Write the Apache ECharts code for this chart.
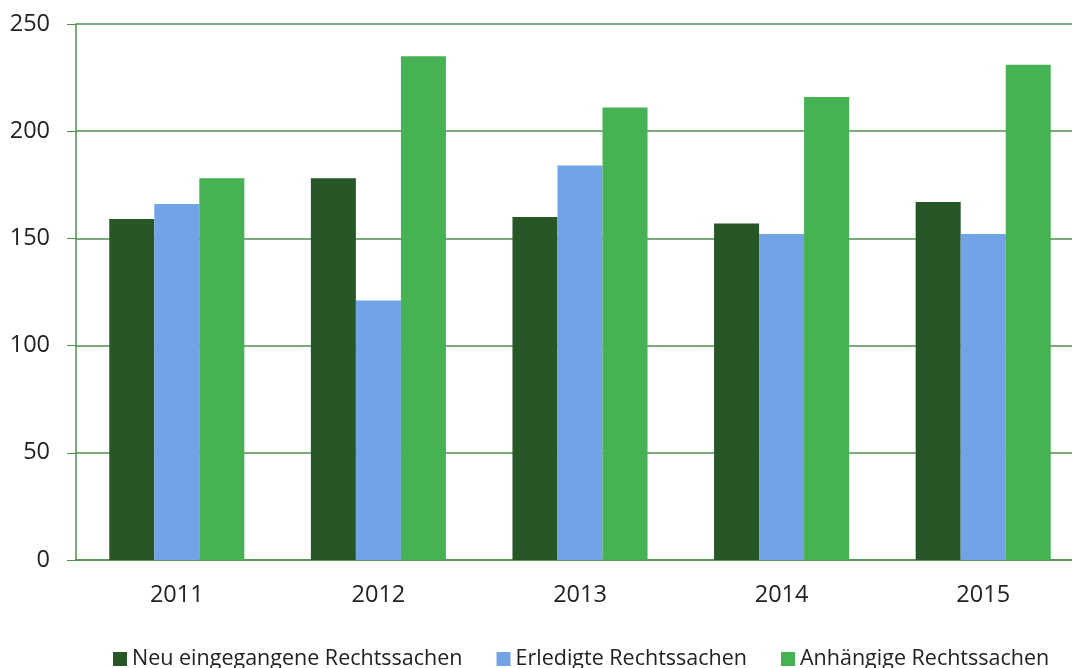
<!DOCTYPE html>
<html>
<head>
<meta charset="utf-8">
<script src="https://cdn.jsdelivr.net/npm/echarts@6/dist/echarts.min.js"></script>
<style>
  html, body { margin: 0; padding: 0; background: #fff; }
  #chart { width: 1072px; height: 668px; }
</style>
</head>
<body>
<div id="chart"></div>
<script>
  // Jahre und Werte
  const years = ['2011', '2012', '2013', '2014', '2015'];
  const neuEingegangen = [159, 178, 160, 157, 167];
  const erledigt = [166, 121, 184, 152, 152];
  const anhaengig = [178, 235, 211, 216, 231];
  const yTicks = [0, 50, 100, 150, 200, 250];

  const gridColor = '#4f8f4f';
  const axisFont = { color: '#222', fontFamily: 'Open Sans', fontSize: 23.5 };
  const legendFont = { color: '#222', fontFamily: 'Open Sans', fontSize: 21.5 };

  const myChart = echarts.init(document.getElementById('chart'));
  myChart.setOption({
    animation: false,
    color: ['#275627', '#71a3e6', '#46b253'],
    legend: {
      bottom: -7,
      left: 108,
      itemWidth: 14,
      itemHeight: 14,
      itemGap: 34,
      icon: 'rect',
      textStyle: legendFont
    },
    // rechter Rand ragt über das Bild hinaus
    grid: {
      top: 24,
      left: 76,
      width: 1008,
      bottom: 108,
      outerBoundsMode: 'none'
    },
    xAxis: {
      type: 'category',
      data: years,
      axisLine: { lineStyle: { color: gridColor, width: 1.5 } },
      axisTick: { length: 10, lineStyle: { color: gridColor } },
      axisLabel: Object.assign({ margin: 23 }, axisFont)
    },
    yAxis: {
      type: 'value',
      min: yTicks[0],
      max: yTicks[yTicks.length - 1],
      interval: 50,
      axisLine: { show: true, lineStyle: { color: gridColor, width: 1.5 } },
      axisTick: { show: true, length: 9, lineStyle: { color: gridColor } },
      splitLine: { lineStyle: { color: gridColor, width: 1.5 } },
      axisLabel: Object.assign({ margin: 26 }, axisFont)
    },
    series: [
      { name: 'Neu eingegangene Rechtssachen', type: 'bar', data: neuEingegangen, barGap: '0%', barCategoryGap: '33%' },
      { name: 'Erledigte Rechtssachen', type: 'bar', data: erledigt },
      { name: 'Anhängige Rechtssachen', type: 'bar', data: anhaengig }
    ]
  });
  window.addEventListener('resize', () => {
    myChart.resize();
  });
</script>
</body>
</html>
